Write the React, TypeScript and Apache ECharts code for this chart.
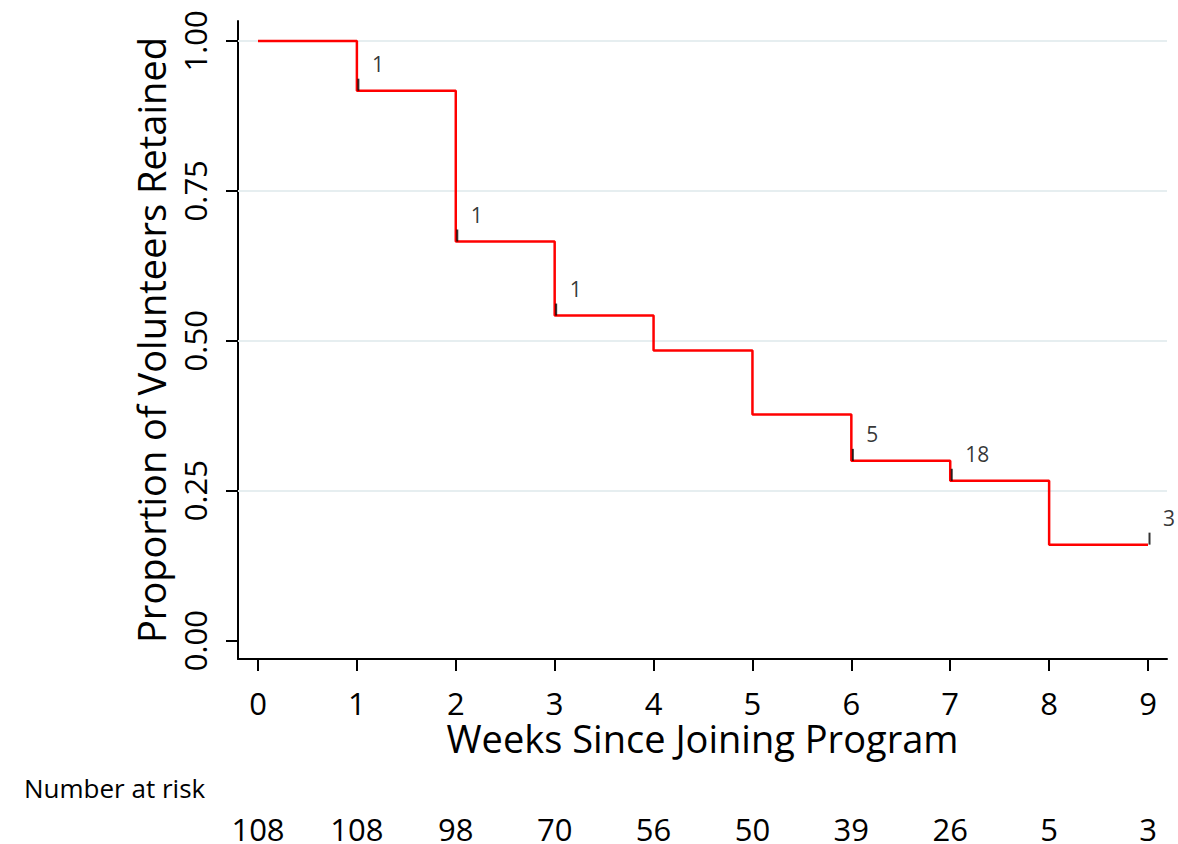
import React, { useEffect, useRef } from "react";
import * as echarts from "echarts";

const weeks = [0, 1, 2, 3, 4, 5, 6, 7, 8, 9];
const survival = [1.0, 0.917, 0.6655, 0.542, 0.4837, 0.377, 0.2997, 0.2665, 0.16, 0.16];
const censorWeeks = [1, 2, 3, 6, 7, 9];
const censorCounts = [1, 1, 1, 5, 18, 3];
const atRisk = [108, 108, 98, 70, 56, 50, 39, 26, 5, 3];
const yTicks = [0, 0.25, 0.5, 0.75, 1];
const gridLines = [0.25, 0.5, 0.75, 1];

const FONT = "Open Sans";
const X_MIN = -0.2022;
const X_MAX = 9.192;
const Y_MIN = -0.0307;
const Y_MAX = 1.0332;

export default function App() {
  const ref = useRef<HTMLDivElement>(null);
  useEffect(() => {
    if (!ref.current) return;
    const chart = echarts.init(ref.current, undefined, { renderer: "svg" });
    const linePts = weeks.map((w, i) => [w, survival[i]]);
    const censorPts = censorWeeks.map((w, i) => [w, survival[w], censorCounts[i]]);
    const option: any = {
      animation: false,
      backgroundColor: "#ffffff",
      grid: { left: 238, right: 11, top: 21, bottom: 181.5, containLabel: false },
      graphic: [
        {
          type: "text",
          left: 24,
          top: 775,
          style: { text: "Number at risk", font: `26px "${FONT}"`, fill: "#000" },
        },
      ],
      xAxis: [
        {
          type: "value",
          min: X_MIN,
          max: X_MAX,
          axisLine: { show: true, onZero: false, lineStyle: { color: "#000", width: 2 } },
          axisTick: { show: true, customValues: weeks, length: 12, lineStyle: { color: "#000", width: 2 } },
          axisLabel: {
            customValues: weeks,
            fontSize: 31,
            fontFamily: FONT,
            color: "#000",
            margin: 28,
          },
          splitLine: { show: false },
          name: "Weeks Since Joining Program",
          nameLocation: "middle",
          nameGap: 60,
          nameMoveOverlap: false,
          nameTextStyle: { fontSize: 38, fontFamily: FONT, color: "#000" },
        },
        {
          type: "value",
          min: X_MIN,
          max: X_MAX,
          position: "bottom",
          offset: 150,
          axisLine: { show: false },
          axisTick: { show: false },
          splitLine: { show: false },
          axisLabel: {
            customValues: weeks,
            fontSize: 31,
            fontFamily: FONT,
            color: "#000",
            margin: 4,
            formatter: (v: number) => String(atRisk[weeks.indexOf(Math.round(v))]),
          },
        },
      ],
      yAxis: {
        type: "value",
        min: Y_MIN,
        max: Y_MAX,
        axisLine: { show: true, onZero: false, lineStyle: { color: "#000", width: 2 } },
        axisTick: { show: true, customValues: yTicks, length: 12, lineStyle: { color: "#000", width: 2 } },
        axisLabel: {
          customValues: yTicks,
          rotate: 90,
          fontSize: 31,
          fontFamily: FONT,
          color: "#000",
          margin: 28,
          formatter: (v: number) => v.toFixed(2),
        },
        splitLine: { show: false },
        name: "Proportion of Volunteers Retained",
        nameLocation: "middle",
        nameGap: 68,
        nameRotate: 90,
        nameMoveOverlap: false,
        nameTextStyle: { fontSize: 38, fontFamily: FONT, color: "#000" },
      },
      series: [
        {
          type: "line",
          data: linePts,
          symbol: "none",
          lineStyle: { opacity: 0 },
          silent: true,
          z: 1,
          markLine: {
            silent: true,
            symbol: ["none", "none"],
            label: { show: false },
            lineStyle: { color: "#e6eef0", width: 2, type: "solid" },
            data: gridLines.map((v) => ({ yAxis: v })),
          },
        },
        {
          type: "line",
          step: "end",
          data: linePts,
          symbol: "none",
          lineStyle: { color: "#ff0000", width: 2.5 },
          z: 10,
        },
        {
          type: "scatter",
          data: censorPts,
          symbol: "rect",
          symbolSize: [2, 12],
          symbolOffset: [1.5, -6],
          itemStyle: { color: "#000" },
          z: 11,
        },
        {
          type: "scatter",
          data: censorPts,
          symbolSize: 0,
          itemStyle: { color: "transparent" },
          z: 12,
          label: {
            show: true,
            position: "right",
            distance: 0,
            offset: [15, -27],
            fontSize: 21,
            fontFamily: FONT,
            color: "#000",
            formatter: (p: any) => String(p.value[2]),
          },
        },
      ],
    };
    chart.setOption(option);
    return () => chart.dispose();
  }, []);
  return (
    <div
      ref={ref}
      style={{ position: "absolute", left: 0, top: 0, width: 1178, height: 844, background: "#fff" }}
    />
  );
}
